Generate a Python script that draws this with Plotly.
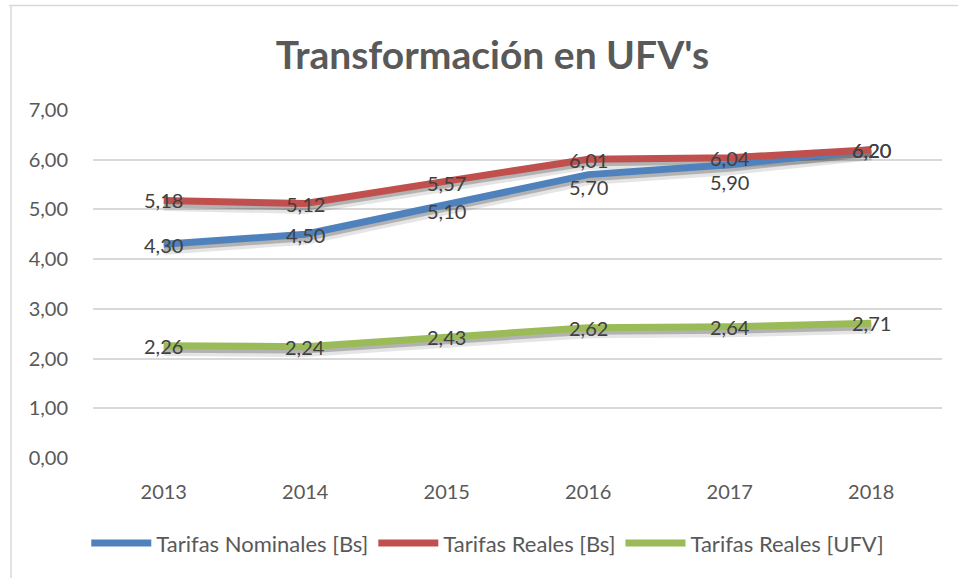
import plotly.graph_objects as go

years = ["2013", "2014", "2015", "2016", "2017", "2018"]
nominales = [4.30, 4.50, 5.10, 5.70, 5.90, 6.20]
reales_bs = [5.18, 5.12, 5.57, 6.01, 6.04, 6.20]
reales_ufv = [2.26, 2.24, 2.43, 2.62, 2.64, 2.71]
y_ticks = [0, 1, 2, 3, 4, 5, 6, 7]
y_tick_labels = ["0,00", "1,00", "2,00", "3,00", "4,00", "5,00", "6,00", "7,00"]

series = [
    ("Tarifas Nominales [Bs]", nominales, "#4F81BD"),
    ("Tarifas Reales [Bs]", reales_bs, "#C0504D"),
    ("Tarifas Reales [UFV]", reales_ufv, "#9BBB59"),
]
# vertical nudges (px) of the data labels, as placed in the original
label_shift = [
    [-1, -1, -7, -12, -17, 0],
    [0, -1, -2, -1, 0, 0],
    [0, 0, 0, 0, 0, 0],
]

FONT = "Lato, Open Sans, sans-serif"
GREY = "#595959"

def fmt(v):
    return f"{v:.2f}".replace(".", ",")

fig = go.Figure()

# soft drop shadows
for name, vals, color in series:
    fig.add_trace(go.Scatter(
        x=years, y=[v - 0.09 for v in vals], mode="lines",
        line=dict(color="rgba(0,0,0,0.10)", width=12),
        showlegend=False, hoverinfo="skip"))
    fig.add_trace(go.Scatter(
        x=years, y=[v - 0.07 for v in vals], mode="lines",
        line=dict(color="rgba(0,0,0,0.22)", width=7),
        showlegend=False, hoverinfo="skip"))

for name, vals, color in series:
    fig.add_trace(go.Scatter(
        x=years, y=vals, mode="lines", name=name,
        line=dict(color=color, width=7)))

for (name, vals, color), shifts in zip(series, label_shift):
    for i, (v, s) in enumerate(zip(vals, shifts)):
        fig.add_annotation(x=i, y=v, text=fmt(v), showarrow=False,
                           xanchor="center", yanchor="middle", yshift=s,
                           font=dict(family=FONT, size=20, color="#404040"))

fig.update_layout(
    width=958, height=578,
    paper_bgcolor="white", plot_bgcolor="white",
    margin=dict(l=93, r=16, t=110, b=120),
    title=dict(text="<b>Transformación en UFV's</b>", x=0.514, xanchor="center",
               y=0.905, yanchor="middle",
               font=dict(family=FONT, size=39, color=GREY)),
    xaxis=dict(type="category", categoryorder="array", categoryarray=years,
               range=[-0.5, len(years) - 0.5],
               showgrid=False, showline=False, ticks="",
               ticklabelstandoff=20,
               tickfont=dict(family=FONT, size=20, color=GREY)),
    yaxis=dict(range=[0, 7], tickvals=y_ticks, ticktext=y_tick_labels,
               showgrid=True, gridcolor="#D9D9D9", gridwidth=1.5,
               zeroline=False, showline=False, ticks="",
               ticklabelstandoff=24,
               tickfont=dict(family=FONT, size=20, color=GREY)),
    legend=dict(orientation="h", x=0.465, xanchor="center", y=-0.245, yanchor="middle",
                font=dict(family=FONT, size=22, color=GREY),
                itemwidth=60, traceorder="normal"),
    showlegend=True,
)

# chart border
fig.add_shape(type="line", xref="paper", yref="paper",
              x0=(9 - 93) / 849, x1=(958 - 93) / 849,
              y0=1 + (110 - 5.5) / 348, y1=1 + (110 - 5.5) / 348,
              line=dict(color="#D9D9D9", width=1.5))
fig.add_shape(type="line", xref="paper", yref="paper",
              x0=(11 - 93) / 849, x1=(11 - 93) / 849,
              y0=1 + (110 - 5.5) / 348, y1=(458 - 578) / 348,
              line=dict(color="#D9D9D9", width=1.5))

fig.write_html("out.html", config={"displayModeBar": False},
               post_script="document.body.style.margin='0';")
